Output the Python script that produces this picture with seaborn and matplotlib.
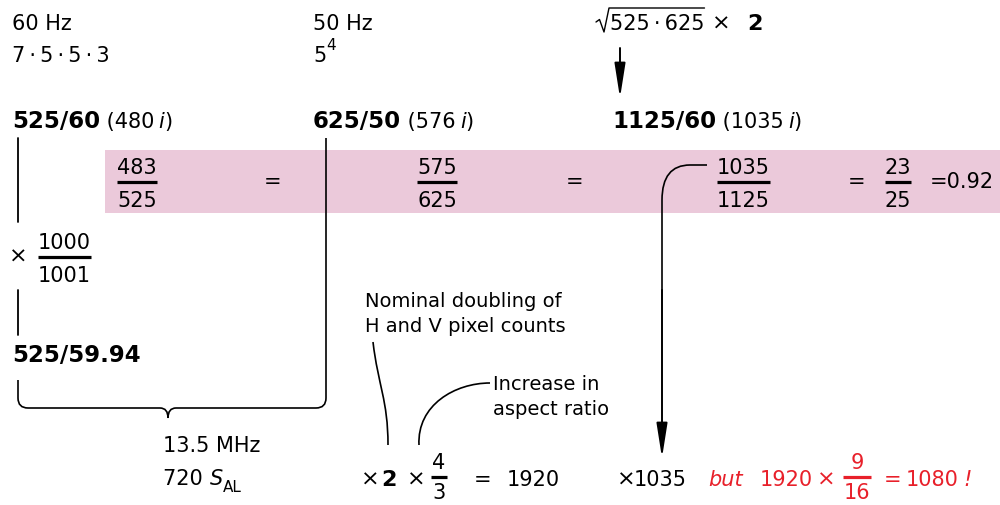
import matplotlib
matplotlib.use('Agg')
import matplotlib.pyplot as plt
import seaborn as sns
from matplotlib.patches import FancyArrowPatch, PathPatch, Rectangle
from matplotlib.path import Path

sns.set_theme(style='white')
plt.rcParams['font.family'] = ['DejaVu Sans']
plt.rcParams['text.color'] = 'black'

# Diagram content
field_rates = ['60 Hz', '50 Hz']
rate_factors = ['7\u2009·\u20095\u2009·\u20095\u2009·\u20093', '5']
systems = ['525/60', '625/50', '1125/60']
active_lines = ['480', '576', '1035']
ratio_num = ['483', '575', '1035', '23']
ratio_den = ['525', '625', '1125', '25']
ratio_value = '0.92'
ntsc_num, ntsc_den = '1000', '1001'
ntsc_system = '525/59.94'
sampling = ['13.5 MHz', '720']
note_double = ['Nominal doubling of', 'H and V pixel counts']
note_aspect = ['Increase in', 'aspect ratio']
aspect_num, aspect_den = '4', '3'
hd_width = '1920'
wide_num, wide_den = '9', '16'
hd_height = '1080'

RED = '#e8202a'
PINK = '#ebc9da'
FS = 15
HEAVY = dict(weight='bold', fontsize=16.5)
TIMES = dict(fontsize=16)

fig = plt.figure(figsize=(10, 5.05), dpi=100)
ax = fig.add_axes([0, 0, 1, 1])
ax.set_xlim(0, 1000)
ax.set_ylim(505, 0)
ax.axis('off')
renderer = fig.canvas.get_renderer()


def run(x, y, parts, **common):
    # draw a row of text pieces one after another, return end x
    for txt, kw in parts:
        opts = dict(fontsize=FS, va='baseline', ha='left', color='black')
        opts.update(common)
        opts.update(kw)
        t = ax.text(x, y, txt, **opts)
        x += t.get_window_extent(renderer).width
    return x


def frac(xc, ybar, num, den, color='black', size=FS, bar=None, gap=25):
    t1 = ax.text(xc, ybar - 8, num, fontsize=size, ha='center', va='baseline', color=color)
    t2 = ax.text(xc, ybar + gap, den, fontsize=size, ha='center', va='baseline', color=color)
    w = bar or max(t1.get_window_extent(renderer).width, t2.get_window_extent(renderer).width)
    ax.plot([xc - w / 2, xc + w / 2], [ybar, ybar], color=color, lw=2.3, solid_capstyle='butt')


def curve(verts, codes, lw=1.2):
    ax.add_patch(PathPatch(Path(verts, codes), fill=False, lw=lw, color='black', capstyle='butt'))


def arrow(x, y0, y1):
    ax.add_patch(FancyArrowPatch((x, y0), (x, y1), arrowstyle='-|>,head_length=1.4,head_width=0.22',
                                 mutation_scale=15, lw=1.4, color='black', shrinkA=0, shrinkB=0))


# top row: field rates and factors
ax.text(12, 30, field_rates[0], fontsize=FS, va='baseline')
ax.text(12, 62, rate_factors[0], fontsize=FS, va='baseline')
ax.text(313, 30, field_rates[1], fontsize=FS, va='baseline')
xe = run(313, 62, [(rate_factors[1], {})])
ax.text(xe, 50, '4', fontsize=11, va='baseline')

# geometric mean
xe = run(610, 30, [('525\u2009·\u2009625', {})])
ax.plot([596, 599.5, 604, 609, xe], [22, 19.5, 32, 8, 8], color='black', lw=1)
ax.text(712, 30, '×', va='baseline', **TIMES)
ax.text(747, 30, '2', fontsize=16, fontweight='bold', va='baseline')
arrow(620, 48, 98)

# system names
for x0, sysname, act in zip([12, 313, 612], systems, active_lines):
    run(x0, 128, [(sysname, HEAVY), (' (' + act + '\u2009', {}), ('i', dict(style='italic')), (')', {})])

# pink band of active/total ratios
ax.add_patch(Rectangle((105, 150), 895, 63, color=PINK, lw=0, zorder=0))
for xc, n, d in zip([137, 437, 743, 898], ratio_num, ratio_den):
    frac(xc, 182, n, d)
for xe_ in [273, 575, 857]:
    ax.text(xe_, 188, '=', fontsize=FS, ha='center', va='baseline')
ax.text(930, 188, '=' + ratio_value, fontsize=FS, va='baseline')

# 525/60 -> 525/59.94
ax.plot([18, 18], [138, 222], color='black', lw=1.3)
ax.text(18, 263, '×', ha='center', va='baseline', **TIMES)
frac(64, 257, ntsc_num, ntsc_den)
ax.plot([18, 18], [290, 335], color='black', lw=1.3)
ax.text(12, 362, ntsc_system, va='baseline', **HEAVY)

# brace joining 525 and 625 systems
M, L, Q = Path.MOVETO, Path.LINETO, Path.CURVE3
curve([(18, 380), (18, 398), (18, 408), (28, 408), (160, 408), (168, 408), (168, 418),
       (168, 408), (176, 408), (316, 408), (326, 408), (326, 398), (326, 138)],
      [M, L, Q, Q, L, Q, Q, Q, Q, L, Q, Q, L])
ax.text(163, 452, sampling[0], fontsize=FS, va='baseline')
xe = run(163, 485, [(sampling[1] + ' ', {}), ('S', dict(style='italic'))])
ax.text(xe, 492, 'AL', fontsize=11, va='baseline')

# doubling note
ax.text(365, 307, note_double[0], fontsize=14, va='baseline')
ax.text(365, 332, note_double[1], fontsize=14, va='baseline')
C4 = Path.CURVE4
curve([(373, 342), (378, 385), (388, 400), (388, 445)], [M, C4, C4, C4])

# aspect note
ax.text(493, 390, note_aspect[0], fontsize=14, va='baseline')
ax.text(493, 415, note_aspect[1], fontsize=14, va='baseline')
curve([(419, 445), (417, 405), (455, 383), (490, 383)], [M, C4, C4, C4])

# bottom equation
ax.text(361, 486, '×', va='baseline', **TIMES)
ax.text(381, 486, '2', fontsize=16, fontweight='bold', va='baseline')
ax.text(407, 486, '×', va='baseline', **TIMES)
frac(439, 477, aspect_num, aspect_den, bar=16, gap=22)
ax.text(474, 486, '=', fontsize=FS, va='baseline')
ax.text(507, 486, hd_width, fontsize=FS, va='baseline')

# 1035 arrow from the HD ratio
curve([(707, 165), (690, 165), (662, 165), (662, 200), (662, 300)], [M, L, Q, Q, L])
arrow(662, 290, 458)
ax.text(617, 486, '×', va='baseline', **TIMES)
ax.text(634, 486, '1035', fontsize=FS, va='baseline')
ax.text(708, 486, 'but', fontsize=FS, style='italic', color=RED, va='baseline')
ax.text(760, 486, hd_width, fontsize=FS, color=RED, va='baseline')
ax.text(817, 486, '×', va='baseline', color=RED, **TIMES)
frac(857, 477, wide_num, wide_den, color=RED, bar=28, gap=22)
ax.text(884, 486, '=', fontsize=FS, color=RED, va='baseline')
ax.text(906, 486, hd_height, fontsize=FS, color=RED, va='baseline')
ax.text(963, 486, '!', fontsize=FS, style='italic', color=RED, va='baseline')

fig.savefig('out.png', dpi=100)
